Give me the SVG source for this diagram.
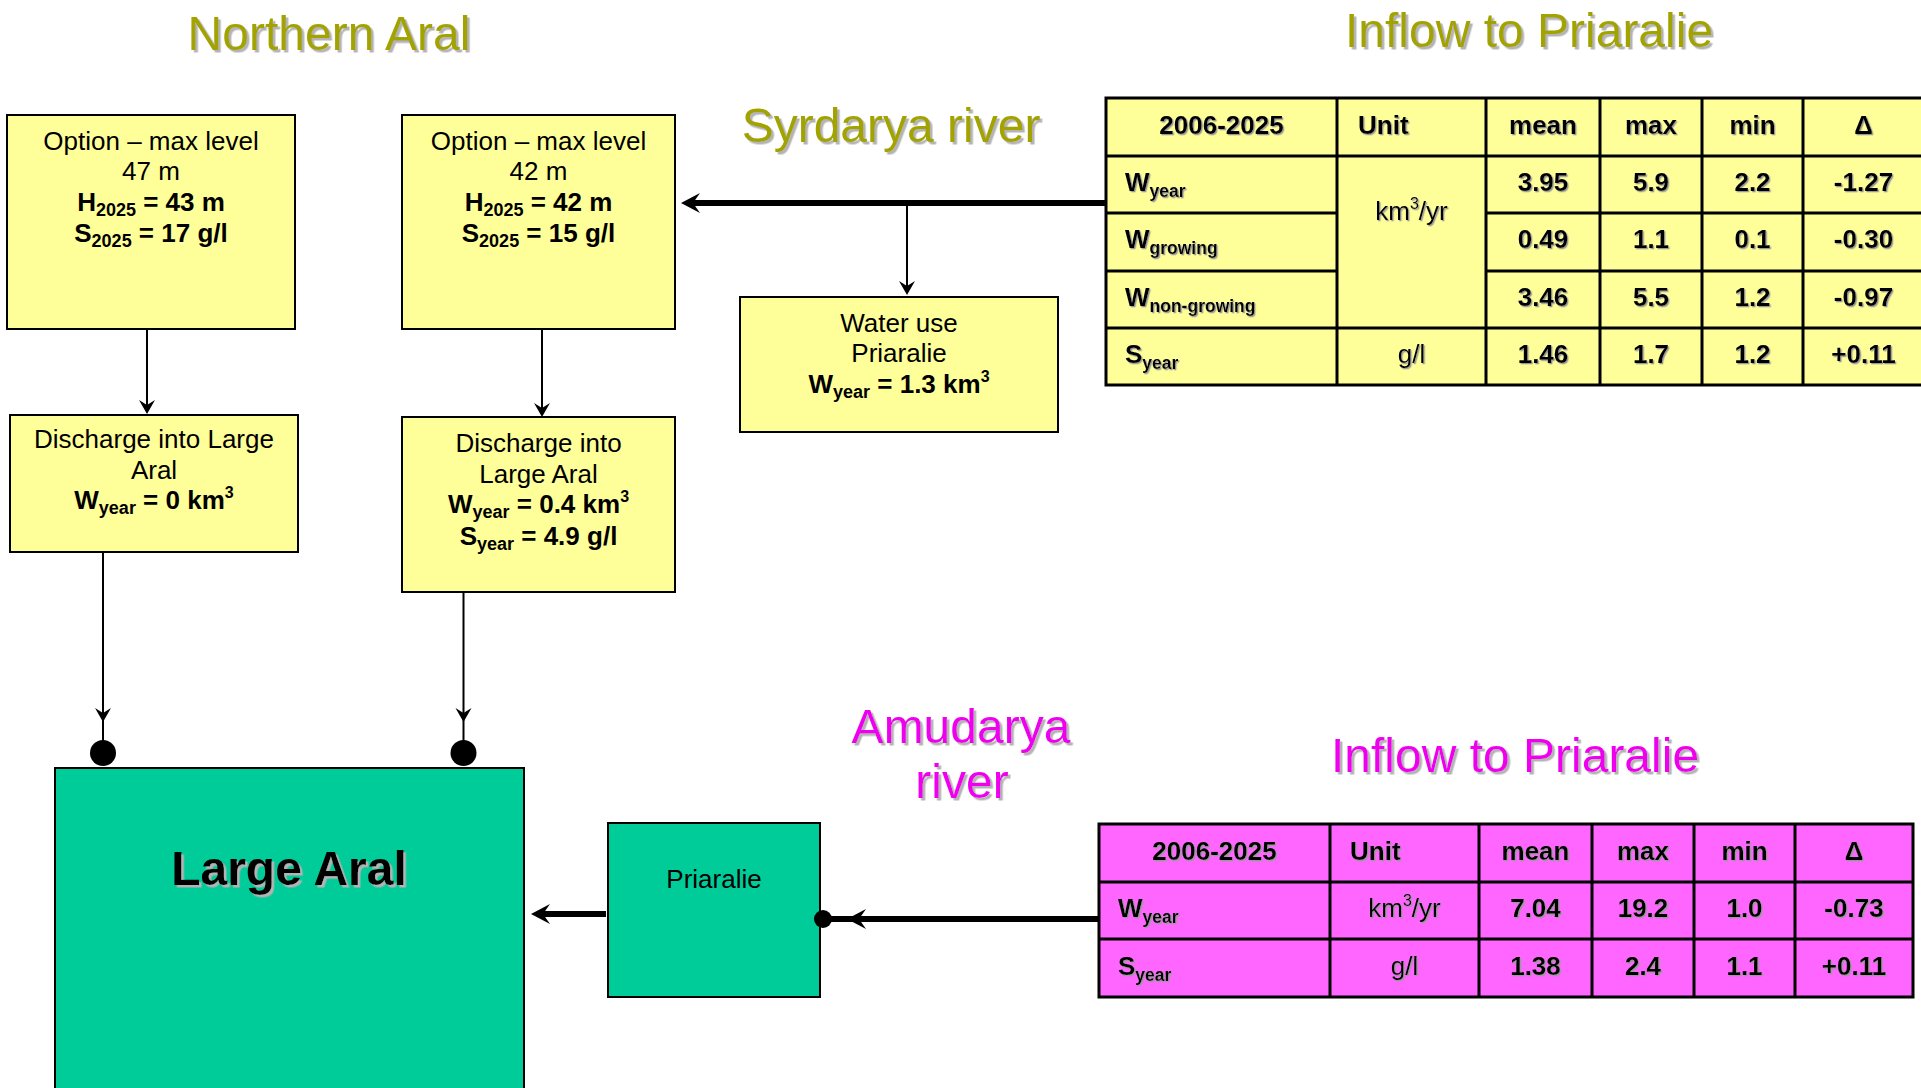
<svg xmlns="http://www.w3.org/2000/svg" width="1921" height="1088" viewBox="0 0 1921 1088">
  <style>
    text { font-family: "Liberation Sans", Arial, sans-serif; }
    .title { font-size: 48px; text-anchor: middle; filter: url(#shadowL); }
    .olive { fill: #A3A300; }
    .magenta { fill: #EE00EE; }
    .box { fill: #FFFF99; stroke: #000; stroke-width: 2; }
    .water { fill: #00CC99; stroke: #000; stroke-width: 2; }
    .bt { font-size: 26px; text-anchor: middle; fill: #000; }
    .b { font-weight: bold; }
    .tt { font-size: 26px; fill: #000; filter: url(#shadowS); }
    .c { text-anchor: middle; }
    .grid { stroke: #000; stroke-width: 3; fill: none; }
    .thin { stroke: #000; stroke-width: 2; fill: none; }
    .thick { stroke: #000; stroke-width: 6; fill: none; }
  </style>
  <defs>
    <filter id="shadowL" x="-10%" y="-20%" width="120%" height="150%">
      <feDropShadow dx="2.5" dy="2.5" stdDeviation="0.4" flood-color="#b4b4b4"/>
    </filter>
    <filter id="shadowS" x="-10%" y="-20%" width="120%" height="150%">
      <feDropShadow dx="1.3" dy="1.3" stdDeviation="0.3" flood-color="#9a9a9a"/>
    </filter>
    <marker id="arrowThin" viewBox="-16 -10 20 20" markerWidth="20" markerHeight="20" refX="-3" refY="0" orient="auto" markerUnits="userSpaceOnUse">
      <path d="M0,0 L-14,-8 L-9,0 L-14,8 Z" fill="#000"/>
    </marker>
    <marker id="arrowThick" viewBox="-22 -12 24 24" markerWidth="24" markerHeight="24" refX="-6" refY="0" orient="auto" markerUnits="userSpaceOnUse">
      <path d="M0,0 L-19,-10 L-12,0 L-19,10 Z" fill="#000"/>
    </marker>
  </defs>

  <rect width="1921" height="1088" fill="#fff"/>

  <!-- headings -->
  <g id="headings">
    <text class="title olive" x="329" y="50">Northern Aral</text>
    <text class="title olive" x="1529" y="47">Inflow to Priaralie</text>
    <text class="title olive" x="891" y="142">Syrdarya river</text>
    <text class="title magenta" x="961" y="743">Amudarya</text>
    <text class="title magenta" x="962" y="798">river</text>
    <text class="title magenta" x="1515" y="772">Inflow to Priaralie</text>
  </g>

  <!-- Northern Aral options -->
  <g id="option-47">
    <rect class="box" x="7" y="115" width="288" height="214"/>
    <text class="bt" x="151" y="150">Option – max level</text>
    <text class="bt" x="151" y="180">47 m</text>
    <text class="bt b" x="151" y="211">H<tspan font-size="18" dy="5">2025</tspan><tspan dy="-5"> = 43 m</tspan></text>
    <text class="bt b" x="151" y="242">S<tspan font-size="18" dy="5">2025</tspan><tspan dy="-5"> = 17 g/l</tspan></text>
  </g>
  <g id="option-42">
    <rect class="box" x="402" y="115" width="273" height="214"/>
    <text class="bt" x="538.5" y="150">Option – max level</text>
    <text class="bt" x="538.5" y="180">42 m</text>
    <text class="bt b" x="538.5" y="211">H<tspan font-size="18" dy="5">2025</tspan><tspan dy="-5"> = 42 m</tspan></text>
    <text class="bt b" x="538.5" y="242">S<tspan font-size="18" dy="5">2025</tspan><tspan dy="-5"> = 15 g/l</tspan></text>
  </g>
  <g id="discharge-47">
    <rect class="box" x="10" y="415" width="288" height="137"/>
    <text class="bt" x="154" y="448">Discharge into Large</text>
    <text class="bt" x="154" y="479">Aral</text>
    <text class="bt b" x="154" y="509">W<tspan font-size="18" dy="5">year</tspan><tspan dy="-5"> = 0 km</tspan><tspan font-size="16" dy="-11">3</tspan></text>
  </g>
  <g id="discharge-42">
    <rect class="box" x="402" y="417" width="273" height="175"/>
    <text class="bt" x="538.5" y="452">Discharge into</text>
    <text class="bt" x="538.5" y="483">Large Aral</text>
    <text class="bt b" x="538.5" y="513">W<tspan font-size="18" dy="5">year</tspan><tspan dy="-5"> = 0.4 km</tspan><tspan font-size="16" dy="-11">3</tspan></text>
    <text class="bt b" x="538.5" y="545">S<tspan font-size="18" dy="5">year</tspan><tspan dy="-5"> = 4.9 g/l</tspan></text>
  </g>
  <g id="water-use">
    <rect class="box" x="740" y="297" width="318" height="135"/>
    <text class="bt" x="899" y="332">Water use</text>
    <text class="bt" x="899" y="362">Priaralie</text>
    <text class="bt b" x="899" y="393">W<tspan font-size="18" dy="5">year</tspan><tspan dy="-5"> = 1.3 km</tspan><tspan font-size="16" dy="-11">3</tspan></text>
  </g>

  <!-- water bodies -->
  <g id="large-aral">
    <rect class="water" x="55" y="768" width="469" height="330"/>
    <text x="289" y="885" font-size="48" font-weight="bold" text-anchor="middle" filter="url(#shadowL)">Large Aral</text>
  </g>
  <g id="priaralie">
    <rect class="water" x="608" y="823" width="212" height="174"/>
    <text class="bt" x="714" y="888">Priaralie</text>
  </g>

  <!-- Syrdarya inflow table -->
  <g id="syrdarya-table">
    <rect x="1106" y="98" width="818" height="287" fill="#FFFF99"/>
    <rect class="grid" x="1106" y="98" width="818" height="287"/>
    <path class="grid" d="M1337,98 V385 M1486,98 V385 M1600,98 V385 M1702,98 V385 M1803,98 V385
      M1106,156 H1924 M1106,213 H1337 M1486,213 H1924 M1106,271 H1337 M1486,271 H1924 M1106,328 H1924"/>
    <text class="tt b c" x="1221.5" y="134">2006-2025</text>
    <text class="tt b" x="1358" y="134">Unit</text>
    <text class="tt b c" x="1543" y="134">mean</text>
    <text class="tt b c" x="1651" y="134">max</text>
    <text class="tt b c" x="1752.5" y="134">min</text>
    <text class="tt b c" x="1863.5" y="134">Δ</text>

    <text class="tt b" x="1125" y="191">W<tspan font-size="17.5" dy="6">year</tspan></text>
    <text class="tt b" x="1125" y="248">W<tspan font-size="17.5" dy="6">growing</tspan></text>
    <text class="tt b" x="1125" y="306">W<tspan font-size="17.5" dy="6">non-growing</tspan></text>
    <text class="tt b" x="1125" y="363">S<tspan font-size="17.5" dy="6">year</tspan></text>

    <text class="tt c" x="1411.5" y="220">km<tspan font-size="16" dy="-11">3</tspan><tspan dy="11">/yr</tspan></text>
    <text class="tt c" x="1411.5" y="363">g/l</text>

    <text class="tt b c" x="1543" y="191">3.95</text>
    <text class="tt b c" x="1651" y="191">5.9</text>
    <text class="tt b c" x="1752.5" y="191">2.2</text>
    <text class="tt b c" x="1863.5" y="191">-1.27</text>

    <text class="tt b c" x="1543" y="248">0.49</text>
    <text class="tt b c" x="1651" y="248">1.1</text>
    <text class="tt b c" x="1752.5" y="248">0.1</text>
    <text class="tt b c" x="1863.5" y="248">-0.30</text>

    <text class="tt b c" x="1543" y="306">3.46</text>
    <text class="tt b c" x="1651" y="306">5.5</text>
    <text class="tt b c" x="1752.5" y="306">1.2</text>
    <text class="tt b c" x="1863.5" y="306">-0.97</text>

    <text class="tt b c" x="1543" y="363">1.46</text>
    <text class="tt b c" x="1651" y="363">1.7</text>
    <text class="tt b c" x="1752.5" y="363">1.2</text>
    <text class="tt b c" x="1863.5" y="363">+0.11</text>
  </g>

  <!-- Amudarya inflow table -->
  <g id="amudarya-table">
    <rect x="1099" y="824" width="814" height="173" fill="#FF66FF"/>
    <rect class="grid" x="1099" y="824" width="814" height="173"/>
    <path class="grid" d="M1330,824 V997 M1479,824 V997 M1592,824 V997 M1694,824 V997 M1795,824 V997
      M1099,882 H1913 M1099,939 H1913"/>
    <text class="tt b c" x="1214.5" y="860">2006-2025</text>
    <text class="tt b" x="1350" y="860">Unit</text>
    <text class="tt b c" x="1535.5" y="860">mean</text>
    <text class="tt b c" x="1643" y="860">max</text>
    <text class="tt b c" x="1744.5" y="860">min</text>
    <text class="tt b c" x="1854" y="860">Δ</text>

    <text class="tt b" x="1118" y="917">W<tspan font-size="17.5" dy="6">year</tspan></text>
    <text class="tt b" x="1118" y="975">S<tspan font-size="17.5" dy="6">year</tspan></text>

    <text class="tt c" x="1404.5" y="917">km<tspan font-size="16" dy="-11">3</tspan><tspan dy="11">/yr</tspan></text>
    <text class="tt c" x="1404.5" y="975">g/l</text>

    <text class="tt b c" x="1535.5" y="917">7.04</text>
    <text class="tt b c" x="1643" y="917">19.2</text>
    <text class="tt b c" x="1744.5" y="917">1.0</text>
    <text class="tt b c" x="1854" y="917">-0.73</text>

    <text class="tt b c" x="1535.5" y="975">1.38</text>
    <text class="tt b c" x="1643" y="975">2.4</text>
    <text class="tt b c" x="1744.5" y="975">1.1</text>
    <text class="tt b c" x="1854" y="975">+0.11</text>
  </g>

  <!-- connectors, drawn last so end dots sit on top of the boxes -->
  <g id="connectors">
    <!-- Syrdarya main channel -->
    <line class="thick" x1="1106" y1="203" x2="687" y2="203" marker-end="url(#arrowThick)"/>
    <!-- branch to water use -->
    <line class="thin" x1="907" y1="206" x2="907" y2="292" marker-end="url(#arrowThin)"/>
    <!-- option boxes to discharge boxes -->
    <line class="thin" x1="147" y1="329" x2="147" y2="411" marker-end="url(#arrowThin)"/>
    <line class="thin" x1="542" y1="329" x2="542" y2="414" marker-end="url(#arrowThin)"/>
    <!-- discharge boxes to Large Aral -->
    <line class="thin" x1="103" y1="552" x2="103" y2="719" marker-end="url(#arrowThin)"/>
    <line class="thin" x1="103" y1="719" x2="103" y2="753"/>
    <circle cx="103" cy="753" r="13" fill="#000"/>
    <line class="thin" x1="463.5" y1="592" x2="463.5" y2="719" marker-end="url(#arrowThin)"/>
    <line class="thin" x1="463.5" y1="719" x2="463.5" y2="753"/>
    <circle cx="463.5" cy="753" r="13" fill="#000"/>
    <!-- Priaralie to Large Aral -->
    <line class="thick" x1="606" y1="914" x2="537" y2="914" marker-end="url(#arrowThick)"/>
    <!-- Amudarya to Priaralie -->
    <line class="thick" x1="1099" y1="919" x2="853" y2="919" stroke-width="5" marker-end="url(#arrowThick)"/>
    <line class="thick" x1="853" y1="919" x2="823" y2="919" stroke-width="5"/>
    <circle cx="823" cy="919" r="9" fill="#000"/>
  </g>
</svg>
